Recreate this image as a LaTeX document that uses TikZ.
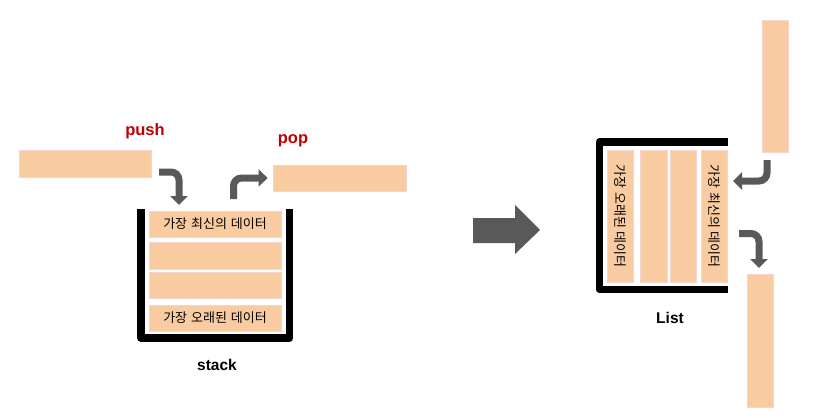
\documentclass[tikz,border=0pt]{standalone}
\usepackage{fontspec}
\setmainfont{Liberation Sans}
\newfontfamily\kr{Noto Sans CJK KR}
\usetikzlibrary{arrows.meta}
\definecolor{boxfill}{HTML}{F8CBA0}
\definecolor{boxline}{HTML}{F6D4D0}
\definecolor{arrgray}{HTML}{595959}
\definecolor{lblred}{HTML}{C00000}
\newcommand{\ksp}{\hspace{0.3em}}
\tikzset{
  databox/.style={draw=boxline, line width=0.8pt, fill=boxfill, inner sep=0pt, font=\kr\fontsize{13}{13}\selectfont},
  bentarrow/.style={draw=arrgray, line width=7pt, rounded corners=8pt, -{Triangle[width=17pt,length=9pt]}},
  wall/.style={draw=black, line width=7.5pt, line join=round, line cap=butt},
  redlbl/.style={text=lblred, font=\bfseries\fontsize{16.5}{16.5}\selectfont},
  blklbl/.style={text=black, font=\bfseries\fontsize{15.5}{15.5}\selectfont},
}
\begin{document}
\begin{tikzpicture}[x=1pt,y=-1pt]
\useasboundingbox (0,0) rectangle (834,417);
% ---------- stack ----------
\node[databox, minimum width=132pt, minimum height=27pt] (pushbox) at (85,163.5) {};
\node[databox, minimum width=133pt, minimum height=26pt] (popbox) at (339.5,178) {};
\node[redlbl] (pushlbl) at (145,131) {push};
\node[redlbl] (poplbl) at (293,141) {pop};
\node[databox, minimum width=132pt, minimum height=26pt] (s1) at (215,224) {가장\ksp 최신의\ksp 데이터};
\node[databox, minimum width=132pt, minimum height=27pt] (s2) at (215,255.5) {};
\node[databox, minimum width=132pt, minimum height=26pt] (s3) at (215,285) {};
\node[databox, minimum width=132pt, minimum height=26pt] (s4) at (215,318) {가장\ksp 오래된\ksp 데이터};
\draw[wall] (141,209) -- (141,338) -- (289.5,338) -- (289.5,209);
\node[blklbl] (stacklbl) at (217,365) {stack};
\coordinate (pushstart) at (159,172);
\coordinate (pushend) at (179,205);
\coordinate (popstart) at (233.5,199);
\draw[bentarrow] (pushstart) -- (pushstart -| pushend) -- (pushend);
\draw[bentarrow] (popstart) -- (popstart |- popbox) -- ([xshift=-5pt]popbox.west);
% ---------- big arrow ----------
\node[inner sep=0pt] (mid) at (506,230) {};
\fill[arrgray] (473,218) -- (515,218) -- (515,205) -- (540,230) -- (515,254) -- (515,243) -- (473,243) -- cycle;
% ---------- list ----------
\node[databox, minimum width=26pt, minimum height=132pt] (topbox) at (775,86) {};
\node[databox, minimum width=26pt, minimum height=133pt] (botbox) at (760,340.5) {};
\node[databox, minimum width=26pt, minimum height=132pt] (l1) at (620,216) {};
\node[databox, minimum width=27pt, minimum height=132pt] (l2) at (653.5,216) {};
\node[databox, minimum width=26pt, minimum height=132pt] (l3) at (683,216) {};
\node[databox, minimum width=26pt, minimum height=132pt] (l4) at (714,216) {};
\node[rotate=-90, font=\kr\fontsize{13}{13}\selectfont] (l1t) at (l1) {가장\ksp 오래된\ksp 데이터};
\node[rotate=-90, font=\kr\fontsize{13}{13}\selectfont] (l4t) at (l4) {가장\ksp 최신의\ksp 데이터};
\draw[wall] (728,142) -- (599.5,142) -- (599.5,289.5) -- (728,289.5);
\node[blklbl] (listlbl) at (670,318) {List};
\coordinate (instart) at (767,160);
\coordinate (inend) at (733,181);
\coordinate (outstart) at (739,233.5);
\coordinate (outend) at (759,268);
\draw[bentarrow] (instart) -- (instart |- inend) -- (inend);
\draw[bentarrow] (outstart) -- (outstart -| outend) -- (outend);
\end{tikzpicture}
\end{document}
